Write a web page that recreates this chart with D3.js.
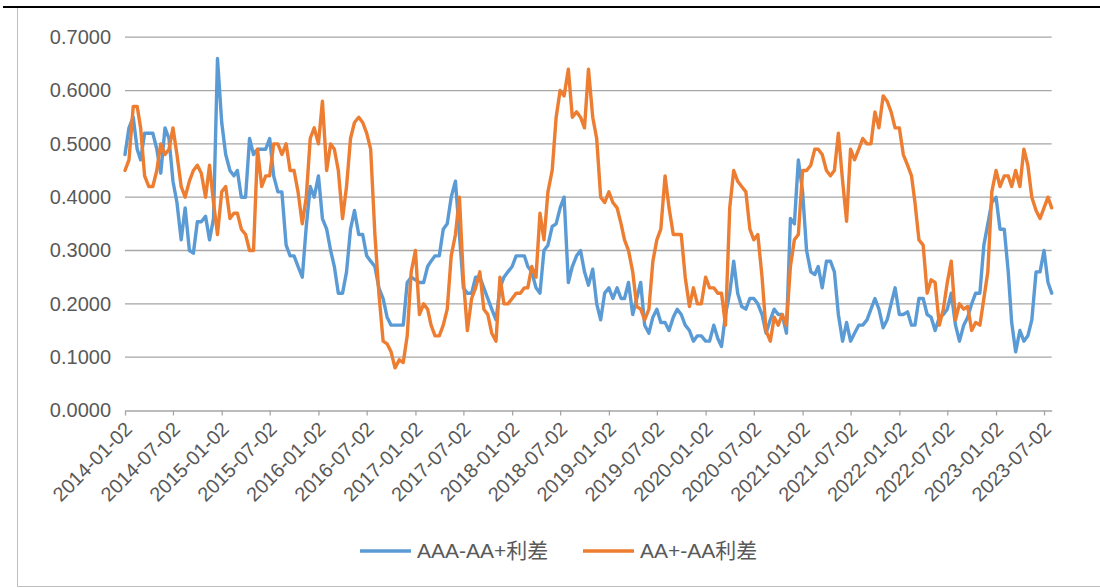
<!DOCTYPE html>
<html>
<head>
<meta charset="utf-8">
<script src="https://cdn.jsdelivr.net/npm/d3@7"></script>
<style>
  body { margin: 0; background: #fff; }
  text { font-family: "Liberation Sans", Arial, "Noto Sans CJK SC", sans-serif; }
</style>
</head>
<body>
<svg id="chart" width="1100" height="588"></svg>
<script>
// Observation dates (about twice a month), one row per year
const dates = [
    '2014-01-02','2014-01-17','2014-02-02','2014-02-17','2014-03-02','2014-03-17','2014-04-02','2014-04-17','2014-05-02','2014-05-17','2014-06-02','2014-06-17','2014-07-02','2014-07-17','2014-08-02','2014-08-17','2014-09-02','2014-09-17','2014-10-02','2014-10-17','2014-11-02','2014-11-17','2014-12-02','2014-12-17',
    '2015-01-02','2015-01-17','2015-02-02','2015-02-17','2015-03-02','2015-03-17','2015-04-02','2015-04-17','2015-05-02','2015-05-17','2015-06-02','2015-06-17','2015-07-02','2015-07-17','2015-08-02','2015-08-17','2015-09-02','2015-09-17','2015-10-02','2015-10-17','2015-11-02','2015-11-17','2015-12-02','2015-12-17',
    '2016-01-02','2016-01-17','2016-02-02','2016-02-17','2016-03-02','2016-03-17','2016-04-02','2016-04-17','2016-05-02','2016-05-17','2016-06-02','2016-06-17','2016-07-02','2016-07-17','2016-08-02','2016-08-17','2016-09-02','2016-09-17','2016-10-02','2016-10-17','2016-11-02','2016-11-17','2016-12-02','2016-12-17',
    '2017-01-02','2017-01-17','2017-02-02','2017-02-17','2017-03-02','2017-03-17','2017-04-02','2017-04-17','2017-05-02','2017-05-17','2017-06-02','2017-06-17','2017-07-02','2017-07-17','2017-08-02','2017-08-17','2017-09-02','2017-09-17','2017-10-02','2017-10-17','2017-11-02','2017-11-17','2017-12-02','2017-12-17',
    '2018-01-02','2018-01-17','2018-02-02','2018-02-17','2018-03-02','2018-03-17','2018-04-02','2018-04-17','2018-05-02','2018-05-17','2018-06-02','2018-06-17','2018-07-02','2018-07-17','2018-08-02','2018-08-17','2018-09-02','2018-09-17','2018-10-02','2018-10-17','2018-11-02','2018-11-17','2018-12-02','2018-12-17',
    '2019-01-02','2019-01-17','2019-02-02','2019-02-17','2019-03-02','2019-03-17','2019-04-02','2019-04-17','2019-05-02','2019-05-17','2019-06-02','2019-06-17','2019-07-02','2019-07-17','2019-08-02','2019-08-17','2019-09-02','2019-09-17','2019-10-02','2019-10-17','2019-11-02','2019-11-17','2019-12-02','2019-12-17',
    '2020-01-02','2020-01-17','2020-02-02','2020-02-17','2020-03-02','2020-03-17','2020-04-02','2020-04-17','2020-05-02','2020-05-17','2020-06-02','2020-06-17','2020-07-02','2020-07-17','2020-08-02','2020-08-17','2020-09-02','2020-09-17','2020-10-02','2020-10-17','2020-11-02','2020-11-17','2020-12-02','2020-12-17',
    '2021-01-02','2021-01-17','2021-02-02','2021-02-17','2021-03-02','2021-03-17','2021-04-02','2021-04-17','2021-05-02','2021-05-17','2021-06-02','2021-06-17','2021-07-02','2021-07-17','2021-08-02','2021-08-17','2021-09-02','2021-09-17','2021-10-02','2021-10-17','2021-11-02','2021-11-17','2021-12-02','2021-12-17',
    '2022-01-02','2022-01-17','2022-02-02','2022-02-17','2022-03-02','2022-03-17','2022-04-02','2022-04-17','2022-05-02','2022-05-17','2022-06-02','2022-06-17','2022-07-02','2022-07-17','2022-08-02','2022-08-17','2022-09-02','2022-09-17','2022-10-02','2022-10-17','2022-11-02','2022-11-17','2022-12-02','2022-12-17',
    '2023-01-02','2023-01-17','2023-02-02','2023-02-17','2023-03-02','2023-03-17','2023-04-02','2023-04-17','2023-05-02','2023-05-17','2023-06-02','2023-06-17','2023-07-02','2023-07-17','2023-07-31'
];

// AAA-AA+ spread
const aaaSpread = [
    0.48,0.53,0.55,0.49,0.47,0.52,0.52,0.52,0.49,0.445,0.53,0.51,0.43,0.39,0.32,0.38,0.30,0.295,0.354,0.354,0.364,0.32,0.36,0.66,
    0.54,0.48,0.45,0.44,0.45,0.40,0.40,0.51,0.48,0.49,0.49,0.49,0.51,0.44,0.41,0.41,0.31,0.29,0.29,0.27,0.25,0.345,0.42,0.40,
    0.44,0.36,0.34,0.30,0.27,0.22,0.22,0.26,0.34,0.375,0.33,0.33,0.29,0.28,0.27,0.23,0.21,0.175,0.16,0.16,0.16,0.16,0.24,0.25,
    0.245,0.24,0.24,0.27,0.28,0.29,0.29,0.34,0.35,0.40,0.43,0.33,0.23,0.22,0.22,0.25,0.25,0.23,0.21,0.19,0.17,0.23,0.25,0.26,
    0.27,0.29,0.29,0.29,0.27,0.26,0.23,0.22,0.30,0.31,0.345,0.35,0.38,0.40,0.24,0.27,0.29,0.30,0.26,0.235,0.265,0.20,0.17,0.22,
    0.23,0.21,0.23,0.21,0.21,0.24,0.18,0.21,0.24,0.16,0.145,0.175,0.19,0.165,0.165,0.15,0.175,0.19,0.18,0.16,0.15,0.13,0.14,0.14,
    0.13,0.13,0.16,0.135,0.12,0.18,0.22,0.28,0.22,0.195,0.19,0.21,0.21,0.20,0.18,0.145,0.17,0.19,0.18,0.18,0.145,0.36,0.35,0.47,
    0.41,0.30,0.26,0.255,0.27,0.23,0.28,0.28,0.26,0.18,0.13,0.165,0.13,0.145,0.16,0.16,0.17,0.19,0.21,0.19,0.155,0.17,0.20,0.23,
    0.18,0.18,0.185,0.16,0.16,0.21,0.21,0.18,0.175,0.15,0.175,0.18,0.19,0.22,0.16,0.13,0.16,0.175,0.20,0.22,0.22,0.31,0.35,0.39,
    0.40,0.34,0.34,0.26,0.165,0.11,0.15,0.13,0.14,0.17,0.26,0.26,0.30,0.24,0.22
];

// AA+-AA spread
const aaSpread = [
    0.45,0.47,0.57,0.57,0.53,0.44,0.42,0.42,0.45,0.50,0.48,0.49,0.53,0.48,0.42,0.40,0.43,0.45,0.46,0.445,0.40,0.46,0.39,0.33,
    0.41,0.42,0.36,0.37,0.37,0.34,0.33,0.30,0.30,0.49,0.42,0.44,0.44,0.50,0.50,0.48,0.50,0.45,0.45,0.41,0.35,0.40,0.51,0.53,
    0.50,0.58,0.45,0.50,0.49,0.45,0.36,0.42,0.51,0.54,0.55,0.54,0.52,0.49,0.33,0.22,0.13,0.125,0.11,0.08,0.095,0.09,0.14,0.26,
    0.30,0.18,0.20,0.19,0.16,0.14,0.14,0.16,0.19,0.29,0.33,0.40,0.245,0.15,0.21,0.23,0.26,0.19,0.18,0.145,0.13,0.25,0.20,0.20,
    0.21,0.22,0.22,0.23,0.23,0.27,0.25,0.37,0.32,0.41,0.45,0.55,0.60,0.59,0.64,0.55,0.56,0.55,0.53,0.64,0.55,0.51,0.40,0.39,
    0.41,0.39,0.38,0.35,0.32,0.30,0.26,0.195,0.19,0.17,0.19,0.28,0.32,0.34,0.44,0.38,0.33,0.33,0.33,0.25,0.195,0.23,0.20,0.20,
    0.25,0.23,0.23,0.22,0.22,0.16,0.38,0.45,0.43,0.42,0.41,0.34,0.32,0.33,0.25,0.15,0.13,0.175,0.16,0.18,0.16,0.27,0.32,0.33,
    0.45,0.45,0.46,0.49,0.49,0.48,0.45,0.44,0.45,0.52,0.43,0.355,0.49,0.47,0.49,0.51,0.50,0.50,0.56,0.53,0.59,0.58,0.56,0.53,
    0.53,0.48,0.46,0.44,0.39,0.32,0.31,0.22,0.245,0.24,0.16,0.19,0.24,0.28,0.17,0.20,0.19,0.195,0.15,0.165,0.16,0.21,0.26,0.41,
    0.45,0.42,0.44,0.44,0.42,0.45,0.42,0.49,0.46,0.40,0.375,0.36,0.38,0.40,0.38
];

const tickLabels = [
    '2014-01-02','2014-07-02','2015-01-02','2015-07-02','2016-01-02','2016-07-02','2017-01-02',
    '2017-07-02','2018-01-02','2018-07-02','2019-01-02','2019-07-02','2020-01-02','2020-07-02',
    '2021-01-02','2021-07-02','2022-01-02','2022-07-02','2023-01-02','2023-07-02'
];
const yTicks = [0, 0.1, 0.2, 0.3, 0.4, 0.5, 0.6, 0.7];
const seriesNames = ['AAA-AA+利差', 'AA+-AA利差'];
const seriesColors = ['#5b9bd5', '#ed7d31'];

const parseDate = d3.utcParse('%Y-%m-%d');
const svg = d3.select('#chart');

// Chart frame
svg.append('rect')
    .attr('x', 17.5).attr('y', 7.5)
    .attr('width', 1090).attr('height', 579)
    .attr('fill', 'none')
    .attr('stroke', '#bfbfbf');
svg.append('line')
    .attr('x1', 3).attr('x2', 1100)
    .attr('y1', 7).attr('y2', 7)
    .attr('stroke', '#000')
    .attr('stroke-width', 2);

// Scales
const xScale = d3.scaleUtc()
    .domain([parseDate('2014-01-02'), parseDate('2023-07-31')])
    .range([125, 1051.7]);
const yScale = d3.scaleLinear()
    .domain([0, 0.7])
    .range([410.5, 37.2]);

// Horizontal gridlines
svg.append('g')
    .selectAll('line')
    .data(yTicks.slice(1))
    .join('line')
    .attr('x1', 125).attr('x2', 1051.7)
    .attr('y1', d => yScale(d)).attr('y2', d => yScale(d))
    .attr('stroke', '#a6a6a6')
    .attr('stroke-width', 1.3);

// Y axis labels
const yAxis = svg.append('g')
    .attr('transform', 'translate(111,0)')
    .call(d3.axisLeft(yScale).tickValues(yTicks).tickFormat(d3.format('.4f')).tickSize(0).tickPadding(0));
yAxis.select('.domain').remove();
yAxis.selectAll('text')
    .attr('fill', '#595959')
    .style('font-size', '20px');

// X axis with rotated date labels
const xAxis = svg.append('g')
    .attr('transform', 'translate(0,410.5)')
    .call(d3.axisBottom(xScale)
        .tickValues(tickLabels.map(parseDate))
        .tickFormat(d3.utcFormat('%Y-%m-%d'))
        .tickSize(5)
        .tickSizeOuter(0));
xAxis.select('.domain').attr('stroke', '#a6a6a6').attr('stroke-width', 1.3);
xAxis.selectAll('.tick line').attr('stroke', '#a6a6a6').attr('stroke-width', 1.3);
xAxis.selectAll('text')
    .attr('x', 0).attr('y', 0)
    .attr('dy', '0.35em')
    .attr('transform', 'translate(3,15) rotate(-45)')
    .style('text-anchor', 'end')
    .style('font-size', '20px')
    .attr('fill', '#595959');

// Lines
const line = d3.line()
    .x(d => xScale(d.date))
    .y(d => yScale(d.value));

[aaaSpread, aaSpread].forEach((values, i) => {
    const points = dates.map((d, j) => ({ date: parseDate(d), value: values[j] }));
    svg.append('path')
        .datum(points)
        .attr('fill', 'none')
        .attr('stroke', seriesColors[i])
        .attr('stroke-width', 3.4)
        .attr('stroke-linejoin', 'round')
        .attr('stroke-linecap', 'round')
        .attr('d', line);
});

// Legend
const legendX = [360, 583];
seriesNames.forEach((name, i) => {
    const g = svg.append('g').attr('transform', `translate(${legendX[i]},551)`);
    g.append('line')
        .attr('x1', 0).attr('x2', 51)
        .attr('stroke', seriesColors[i])
        .attr('stroke-width', 3.4);
    g.append('text')
        .attr('x', 57).attr('dy', '0.35em')
        .style('font-size', '21px')
        .attr('fill', '#595959')
        .text(name);
});
</script>
</body>
</html>
